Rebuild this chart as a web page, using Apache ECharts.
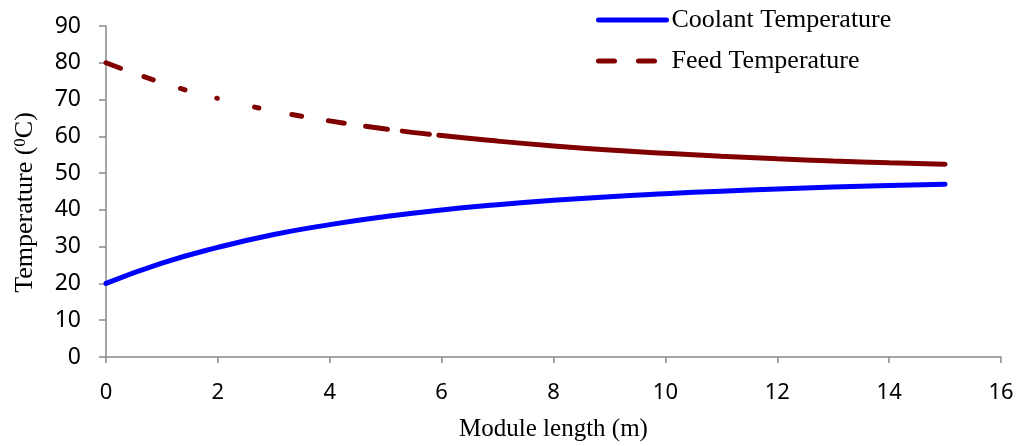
<!DOCTYPE html>
<html><head><meta charset="utf-8">
<script src="https://cdn.jsdelivr.net/npm/echarts@6/dist/echarts.min.js"></script>
<style>html,body{margin:0;padding:0;background:#fff}#c{width:1018px;height:446px}</style>
</head><body><div id="c"></div>
<script>
const moduleLength = [0,1,2,3,4,5,6,7,8,9,10,11,12,13,14,15];
const coolantTemp = [20,25.5,29.8,33.3,36,38.2,40,41.4,42.6,43.6,44.4,45.1,45.7,46.2,46.6,47];
const feedTemp = [80,74.6,70.3,66.9,64.2,62,60.2,58.7,57.4,56.3,55.4,54.6,53.9,53.3,52.8,52.4];
const xTicks = [0,2,4,6,8,10,12,14,16];
const yTicks = [0,10,20,30,40,50,60,70,80,90];

const pair = (xs, ys) => xs.map((x, i) => [x, ys[i]]);
const feedDash = [15.7,24.8,9.9,28.2,4.9,33,0.5,38.3,4.5,33.3,10.1,27.2,15.8,21.8,21.8,15.1,27.5,9.5,3000,0];

const chart = echarts.init(document.getElementById('c'));
chart.setOption({
  animation: false,
  grid: {left: 106, right: 17, top: 26, bottom: 89, outerBoundsMode: 'none', containLabel: false},
  legend: {
    orient: 'vertical', left: 591, top: 2, itemWidth: 68, itemHeight: 14, itemGap: 15,
    textStyle: {fontFamily: 'Liberation Serif', fontSize: 26, lineHeight: 22, color: '#000'},
    data: [
      {name: 'Coolant Temperature', itemStyle: {opacity: 0}, lineStyle: {color: '#0000ff', width: 5, cap: 'round'}},
      {name: 'Feed Temperature', itemStyle: {opacity: 0}, lineStyle: {color: '#800000', width: 5, cap: 'round', type: [16,24,16,200]}}
    ]
  },
  xAxis: {
    type: 'value', min: xTicks[0], max: xTicks[xTicks.length-1], interval: 2,
    name: 'Module length (m)', nameLocation: 'middle', nameGap: 60,
    nameTextStyle: {fontFamily: 'Liberation Serif', fontSize: 25, color: '#000'},
    axisLine: {lineStyle: {color: '#898989', width: 1.5}},
    axisTick: {length: 6, lineStyle: {color: '#898989', width: 1.5}},
    axisLabel: {margin: 25, fontFamily: 'Noto Sans', fontSize: 22, color: '#000'},
    splitLine: {show: false}
  },
  yAxis: {
    type: 'value', min: yTicks[0], max: yTicks[yTicks.length-1], interval: 10,
    name: '{a|Temperature (}{s|0}{a|C)}', nameLocation: 'middle', nameGap: 68,
    nameTextStyle: {padding: [0, 22, 0, 0], rich: {
      a: {fontFamily: 'Liberation Serif', fontSize: 26, color: '#000'},
      s: {fontFamily: 'Liberation Serif', fontSize: 17, color: '#000', verticalAlign: 'top', padding: [0,0,9,0]}
    }},
    axisLine: {show: true, lineStyle: {color: '#898989', width: 1.5}},
    axisTick: {show: true, length: 7, lineStyle: {color: '#898989', width: 1.5}},
    axisLabel: {margin: 25, fontFamily: 'Noto Sans', fontSize: 23, color: '#000'},
    splitLine: {show: false}
  },
  series: [
    {name: 'Coolant Temperature', type: 'line', smooth: true, symbol: 'none',
     data: pair(moduleLength, coolantTemp),
     lineStyle: {color: '#0000ff', width: 5, cap: 'round'}, itemStyle: {color: '#0000ff'}},
    {name: 'Feed Temperature', type: 'line', smooth: true, symbol: 'none',
     data: pair(moduleLength, feedTemp),
     lineStyle: {color: '#800000', width: 5, cap: 'round', type: feedDash}, itemStyle: {color: '#800000'}}
  ]
});
</script></body></html>
